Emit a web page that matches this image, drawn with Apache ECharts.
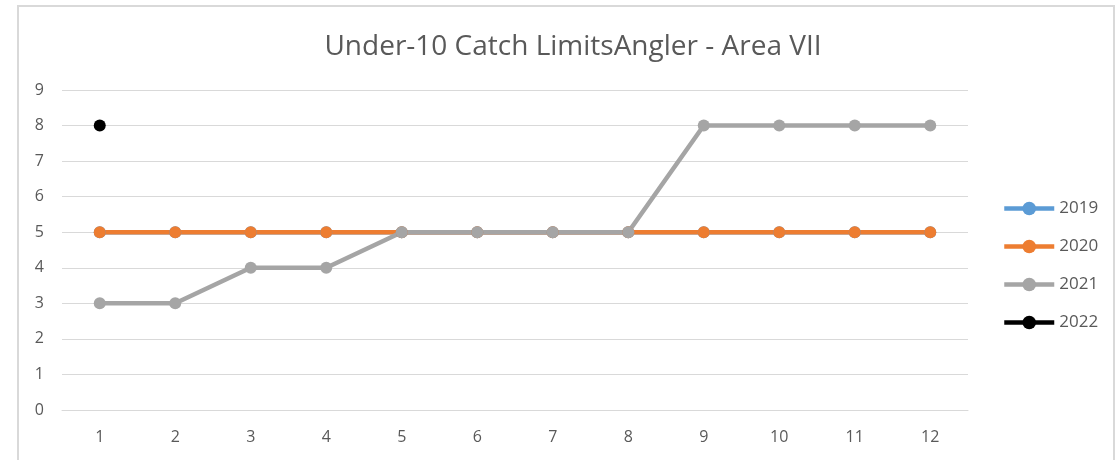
<!DOCTYPE html>
<html>
<head>
<meta charset="utf-8">
<script src="https://cdn.jsdelivr.net/npm/echarts@6/dist/echarts.min.js"></script>
<style>
  html, body { margin: 0; padding: 0; background: #fff; }
  #frame { position: absolute; left: 17px; top: 5px; width: 1098px; height: 470px; border: 2px solid #d9d9d9; border-bottom: none; box-sizing: border-box; }
  #chart { width: 1117px; height: 460px; position: absolute; left: 0; top: 0; }
</style>
</head>
<body>
<div id="frame"></div>
<div id="chart"></div>
<script>
const months = ['1', '2', '3', '4', '5', '6', '7', '8', '9', '10', '11', '12']
const y2019 = [5, 5, 5, 5, 5, 5, 5, 5, 5, 5, 5, 5]
const y2020 = [5, 5, 5, 5, 5, 5, 5, 5, 5, 5, 5, 5]
const y2021 = [3, 3, 4, 4, 5, 5, 5, 5, 8, 8, 8, 8]
const y2022 = [8, null, null, null, null, null, null, null, null, null, null, null]

const myChart = echarts.init(document.getElementById('chart'))

function lineSeries(name, data, color) {
  return {
    name: name,
    type: 'line',
    data: data,
    symbol: 'circle',
    symbolSize: 12,
    lineStyle: { width: 4.5, color: color },
    itemStyle: { color: color },
    emphasis: { disabled: true },
    animation: false
  }
}

const option = {
  title: {
    text: 'Under-10 Catch LimitsAngler - Area VII',
    left: 568,
    textAlign: 'center',
    top: 28,
    textStyle: { color: '#595959', fontSize: 28, fontWeight: 'normal', fontFamily: 'Open Sans' }
  },
  legend: {
    orient: 'vertical',
    left: 997,
    top: 195,
    itemGap: 21,
    itemWidth: 50,
    itemHeight: 17,
    lineStyle: { width: 4.5 },
    textStyle: { color: '#595959', fontSize: 17, fontFamily: 'Open Sans' },
    data: ['2019', '2020', '2021', '2022']
  },
  grid: {
    left: 62,
    right: 149,
    top: 90,
    bottom: 50,
    containLabel: false
  },
  xAxis: {
    type: 'category',
    data: months,
    boundaryGap: true,
    axisLine: { lineStyle: { color: '#d9d9d9', width: 1 } },
    axisTick: { show: false },
    axisLabel: { color: '#595959', fontSize: 16, margin: 19, fontFamily: 'Open Sans' }
  },
  yAxis: {
    type: 'value',
    min: 0,
    max: 9,
    interval: 1,
    axisLine: { show: false },
    axisTick: { show: false },
    splitLine: { lineStyle: { color: '#d9d9d9', width: 1 } },
    axisLabel: { color: '#595959', fontSize: 16, margin: 18, fontFamily: 'Open Sans' }
  },
  series: [
    lineSeries('2019', y2019, '#5b9bd5'),
    lineSeries('2020', y2020, '#ed7d31'),
    lineSeries('2021', y2021, '#a5a5a5'),
    lineSeries('2022', y2022, '#000000')
  ]
}

myChart.setOption(option)
</script>
</body>
</html>
